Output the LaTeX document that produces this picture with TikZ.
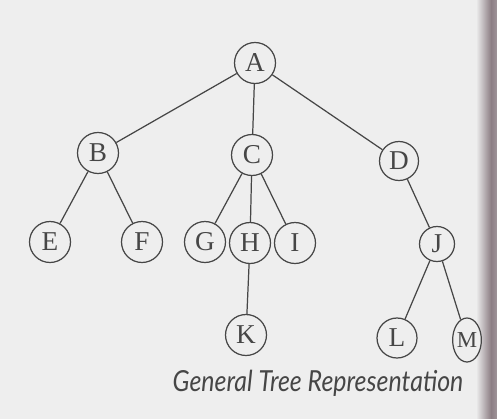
\documentclass[tikz,border=0pt]{standalone}
\usepackage{fontspec}
\setmainfont{Liberation Serif}
\newfontfamily\capfont{Lato}
\usepackage{xcolor}
\usetikzlibrary{shapes.geometric}

\definecolor{inkgray}{RGB}{70,70,70}
\definecolor{paper}{RGB}{238,238,238}
\definecolor{gutter}{RGB}{140,126,132}

\begin{document}
\begin{tikzpicture}[x=0.02cm,y=-0.02cm,
  vtx/.style={circle,draw=inkgray,line width=0.7pt,fill=paper,minimum size=0.82cm,inner sep=0pt,font=\fontsize{15.5}{17}\selectfont,text=inkgray},
  link/.style={inkgray,line width=0.7pt}]
\useasboundingbox (0,0) rectangle (497,419);
\fill[paper] (0,0) rectangle (497,419);
% page fold on the right
\shade[left color=paper,right color=gutter] (476,0) rectangle (491,419);
\shade[left color=gutter,right color=gutter!80!paper] (491,0) rectangle (497,419);

% nodes
\node[vtx] (A) at (255,63) {A};
\node[vtx] (B) at (98,153) {B};
\node[vtx] (C) at (252,155) {C};
\node[vtx,minimum size=0.78cm] (D) at (399,161) {D};
\node[vtx] (E) at (50,242) {E};
\node[vtx] (F) at (142,242) {F};
\node[vtx] (G) at (205,242) {G};
\node[vtx] (H) at (250,243) {H};
\node[vtx] (I) at (295,243) {I};
\node[vtx,minimum size=0.7cm] (J) at (437,244) {J};
\node[vtx] (K) at (246,335) {K};
\node[vtx,minimum size=0.8cm] (L) at (397,338) {L};
\node[vtx,ellipse,minimum width=0.56cm,minimum height=0.88cm,font=\fontsize{13}{15}\selectfont] (M) at (467,340) {M};

% edges
\draw[link] (A) -- (B);
\draw[link] (A) -- (C);
\draw[link] (A) -- (D);
\draw[link] (B) -- (E);
\draw[link] (B) -- (F);
\draw[link] (C) -- (G);
\draw[link] (C) -- (H);
\draw[link] (C) -- (I);
\draw[link] (D) -- (J);
\draw[link] (H) -- (K);
\draw[link] (J) -- (L);
\draw[link] (J) -- (M);

\node[font=\capfont\itshape\fontsize{16.5}{19}\selectfont,text=inkgray] (cap) at (318,383) {\scalebox{0.86}[1]{General Tree Representation}};
\end{tikzpicture}
\end{document}
